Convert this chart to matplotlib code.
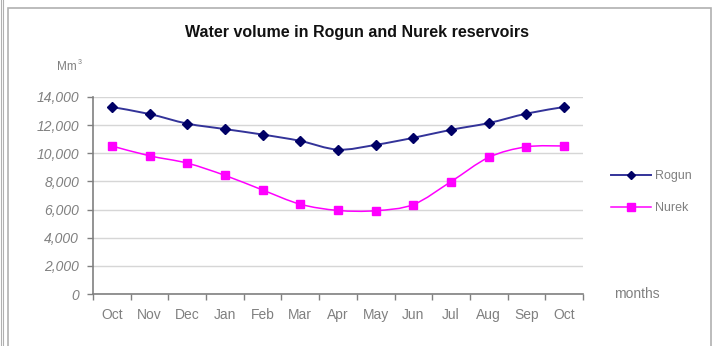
import matplotlib
matplotlib.use('Agg')
import matplotlib.pyplot as plt
from matplotlib.path import Path
from matplotlib.patches import PathPatch, Rectangle
from matplotlib.lines import Line2D
from matplotlib.ticker import FuncFormatter, MultipleLocator

plt.rcParams['font.family'] = ['Liberation Sans', 'DejaVu Sans']

months = ['Oct', 'Nov', 'Dec', 'Jan', 'Feb', 'Mar', 'Apr',
          'May', 'Jun', 'Jul', 'Aug', 'Sep', 'Oct']
rogun = [13290, 12790, 12110, 11720, 11330, 10880, 10260,
         10600, 11100, 11670, 12150, 12820, 13290]
nurek = [10520, 9820, 9300, 8430, 7390, 6380, 5940,
         5920, 6360, 7990, 9710, 10460, 10520]

ROGUN_C = '#000066'
ROGUN_LINE = '#333399'
NUREK_C = '#ff00ff'
GREY = '#808080'


def smooth_path(xs, ys):
    # Catmull-Rom style cubic bezier through the points (like Excel's smoothed line)
    verts = [(xs[0], ys[0])]
    codes = [Path.MOVETO]
    n = len(xs)
    for i in range(n - 1):
        x0, y0 = (xs[i - 1], ys[i - 1]) if i > 0 else (xs[i], ys[i])
        x1, y1 = xs[i], ys[i]
        x2, y2 = xs[i + 1], ys[i + 1]
        x3, y3 = (xs[i + 2], ys[i + 2]) if i + 2 < n else (x2, y2)
        c1 = (x1 + (x2 - x0) / 6, y1 + (y2 - y0) / 6)
        c2 = (x2 - (x3 - x1) / 6, y2 - (y3 - y1) / 6)
        verts += [c1, c2, (x2, y2)]
        codes += [Path.CURVE4] * 3
    return Path(verts, codes)


fig = plt.figure(figsize=(7.17, 3.46), dpi=100)
W, H = 717, 346

# chart frame
fig.patches.append(Rectangle((1 / W, -0.1), 2 / W, 1.2, transform=fig.transFigure,
                             facecolor='none', edgecolor='#b0b0b0', lw=0.8))
fig.patches.append(Rectangle((7.5 / W, -0.1), (710.5 - 7.5) / W, (1 - 7.5 / H) + 0.1,
                             transform=fig.transFigure, facecolor='none',
                             edgecolor='#b0b0b0', lw=1.2))

ax = fig.add_axes([93 / W, 1 - 294 / H, (583 - 93) / W, (294 - 97) / H])
x = list(range(len(months)))

ax.add_patch(PathPatch(smooth_path(x, rogun), facecolor='none',
                       edgecolor=ROGUN_LINE, lw=1.4, zorder=3))
ax.plot(x, rogun, ls='none', marker='D', ms=5, color=ROGUN_C, zorder=4)
ax.add_patch(PathPatch(smooth_path(x, nurek), facecolor='none',
                       edgecolor=NUREK_C, lw=1.1, zorder=3))
ax.plot(x, nurek, ls='none', marker='s', ms=6, color=NUREK_C, zorder=4)

ax.set_xlim(-0.5, len(months) - 0.5)
ax.set_ylim(0, 14000)
ax.yaxis.set_major_locator(MultipleLocator(2000))
ax.yaxis.set_major_formatter(FuncFormatter(lambda v, p: f'{int(v):,}'))
ax.grid(axis='y', color='#d6d6d6', lw=1.0)
ax.set_axisbelow(True)

ax.set_xticks([i - 0.5 for i in range(len(months) + 1)])
ax.set_xticklabels([])
ax.set_xticks(x, minor=True)
ax.set_xticklabels(months, minor=True)
ax.tick_params(axis='x', which='major', direction='out', length=4, color=GREY, width=1)
ax.tick_params(axis='x', which='minor', length=0, pad=10, labelsize=10, labelcolor=GREY)
ax.tick_params(axis='y', direction='out', length=4, color=GREY, width=1,
               labelsize=10, labelcolor=GREY, pad=6)
for t in ax.get_yticklabels():
    t.set_fontstyle('italic')

for s in ['top', 'right']:
    ax.spines[s].set_visible(False)
for s in ['left', 'bottom']:
    ax.spines[s].set_color(GREY)
    ax.spines[s].set_linewidth(1.2)

fig.text(357 / W, 1 - 33 / H, 'Water volume in Rogun and Nurek reservoirs',
         ha='center', va='center', fontsize=11.5, fontweight='bold', color='#111111')
fig.text(57 / W, 1 - 67 / H, 'Mm', ha='left', va='center', fontsize=8.5, color=GREY)
fig.text(77.5 / W, 1 - 62 / H, '3', ha='left', va='center', fontsize=5, color=GREY)
fig.text(614 / W, 1 - 294 / H, 'months', ha='left', va='center', fontsize=10, color=GREY)

handles = [Line2D([], [], color=ROGUN_LINE, lw=1.4, marker='D', ms=4.5,
                  markerfacecolor=ROGUN_C, markeredgecolor=ROGUN_C),
           Line2D([], [], color=NUREK_C, lw=1.1, marker='s', ms=6)]
fig.legend(handles, ['Rogun', 'Nurek'], loc='upper left',
           bbox_to_anchor=(600 / W, 1 - 159 / H), frameon=False,
           fontsize=9, labelcolor=GREY, handlelength=3.2, handletextpad=0.3,
           labelspacing=1.6)

fig.savefig('out.png', dpi=100)
